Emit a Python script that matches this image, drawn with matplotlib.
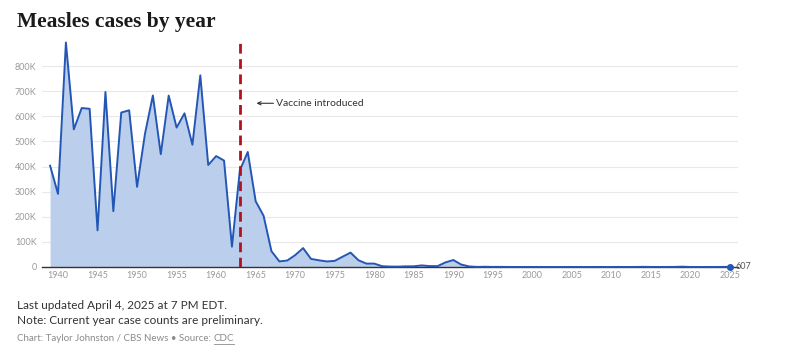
import matplotlib
matplotlib.use("Agg")
import matplotlib.pyplot as plt
from matplotlib.ticker import FuncFormatter

years = list(range(1939, 2026))
cases = [
    403317, 291162, 894134, 548000, 633000, 630000, 146013, 697000, 222375, 615104,
    624000, 319124, 530118, 683077, 449146, 682720, 555156, 611936, 486799, 763094,
    406162, 441703, 423919, 81000, 385156, 458083, 261904, 204136, 62705, 22231,
    25826, 47351, 75290, 32275, 26690, 22094, 24374, 41126, 57345, 26871,
    13597, 13506, 3124, 1714, 1497, 2587, 2822, 6282, 3655, 3396,
    18193, 27786, 9643, 2237, 312, 963, 309, 508, 138, 100,
    100, 86, 116, 44, 56, 37, 66, 55, 43, 140,
    71, 63, 220, 55, 187, 667, 188, 86, 120, 375,
    1274, 13, 49, 121, 59, 285, 607,
]
vaccine_year = 1963
x_ticks = list(range(1940, 2026, 5))
y_ticks = [0, 100000, 200000, 300000, 400000, 500000, 600000, 700000, 800000]

plt.rcParams["font.family"] = ["Lato", "DejaVu Sans"]

fig = plt.figure(figsize=(7.93, 3.58), dpi=100)
ax = fig.add_axes([0.0532, 0.2542, 0.8774, 0.6313])

line_color = "#2457b5"
fill_color = "#bbcfec"

ax.fill_between(years, cases, 0, color=fill_color, linewidth=0)
ax.plot(years, cases, color=line_color, linewidth=1.4, clip_on=False, zorder=3)
ax.plot(years[-1], cases[-1], "o", color=line_color, markersize=4, clip_on=False, zorder=4)
ax.annotate(f"{cases[-1]}", (years[-1], cases[-1]), xytext=(4, 0),
            textcoords="offset points", va="center", ha="left",
            fontsize=6.5, color="#555555", annotation_clip=False)

# vaccine line
ax.axvline(vaccine_year, color="#b0121f", linestyle=(0, (3.5, 2)), linewidth=2, zorder=5)
ax.annotate("Vaccine introduced", xy=(vaccine_year + 2.1, 652000),
            xytext=(vaccine_year + 4.6, 652000), va="center", ha="left",
            fontsize=7.5, color="#333333",
            arrowprops=dict(arrowstyle="->", color="#333333", linewidth=0.8,
                            shrinkA=0, shrinkB=0, mutation_scale=6))

ax.set_xlim(1938, 2026)
ax.set_ylim(0, 900000)
ax.set_xticks(x_ticks)
ax.set_yticks(y_ticks)
ax.yaxis.set_major_formatter(FuncFormatter(lambda v, p: "0" if v == 0 else f"{int(v / 1000)}K"))
ax.tick_params(axis="both", length=0, labelsize=6.5, labelcolor="#9a9a9a")
ax.tick_params(axis="x", pad=3)
ax.tick_params(axis="y", pad=4)
ax.grid(axis="y", color="#e8e8e8", linewidth=0.8)
ax.set_axisbelow(True)
for s in ["top", "right", "left"]:
    ax.spines[s].set_visible(False)
ax.spines["bottom"].set_color("#333333")
ax.spines["bottom"].set_linewidth(1)

fig.text(0.0215, 0.925, "Measles cases by year", fontsize=15.5, fontweight="bold",
         family=["Liberation Serif", "DejaVu Serif"], color="#1a1a1a", va="baseline")

fig.text(0.0215, 0.137, "Last updated April 4, 2025 at 7 PM EDT.", fontsize=8.5,
         color="#333333", va="baseline")
fig.text(0.0215, 0.094, "Note: Current year case counts are preliminary.", fontsize=8.5,
         color="#333333", va="baseline")
src = fig.text(0.0215, 0.047, "Chart: Taylor Johnston / CBS News \u2022 Source: ", fontsize=7,
               color="#8a8a8a", va="baseline")
fig.canvas.draw()
bb = src.get_window_extent().transformed(fig.transFigure.inverted())
cdc = fig.text(bb.x1, 0.047, "CDC", fontsize=7, color="#8a8a8a", va="baseline")
fig.canvas.draw()
cb = cdc.get_window_extent().transformed(fig.transFigure.inverted())
fig.add_artist(plt.Line2D([cb.x0, cb.x1], [0.040, 0.040], color="#8a8a8a", linewidth=0.6))

fig.savefig("out.png", dpi=100)
